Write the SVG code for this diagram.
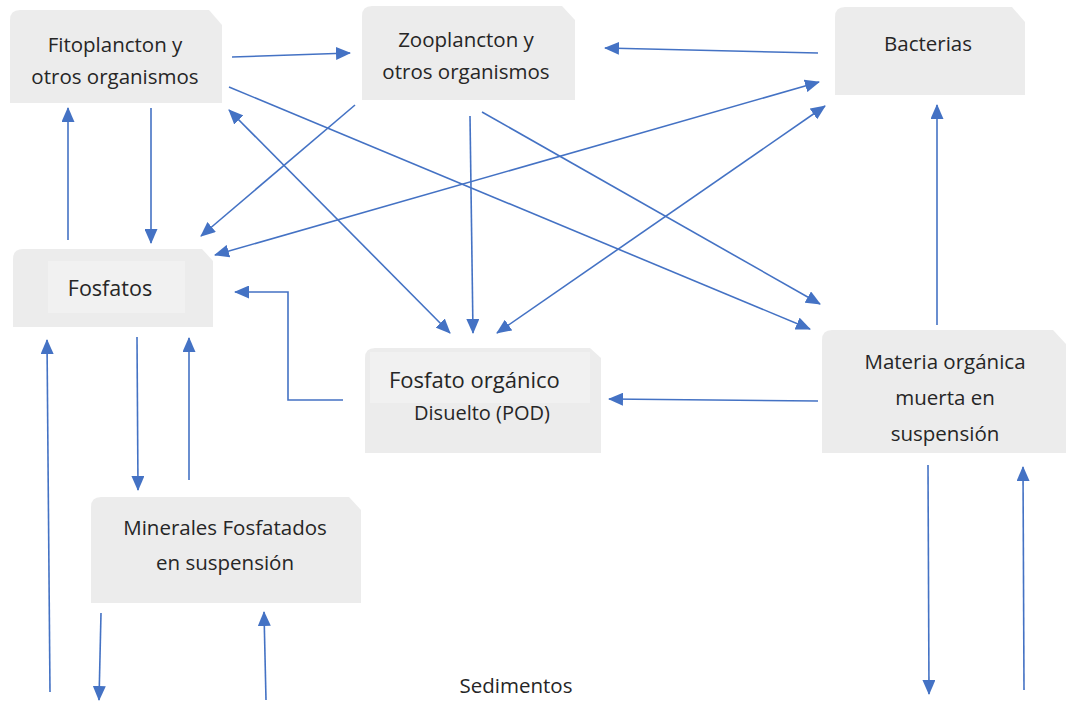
<svg xmlns="http://www.w3.org/2000/svg" width="1069" height="701" viewBox="0 0 1069 701">
  <style>
    .box { fill: #ececec; }
    .inner { fill: #f1f1f1; }
    .lbl { font-family: "Open Sans", "Noto Sans", sans-serif; font-size: 20.5px; fill: #262626; text-anchor: middle; }
    .edge { fill: none; stroke: #4472c4; stroke-width: 1.6; }
    .one { marker-end: url(#head); }
    .two { marker-start: url(#headStart); marker-end: url(#head); }
  </style>
  <defs>
    <marker id="head" viewBox="0 0 15 13" refX="14" refY="6.5" markerWidth="15" markerHeight="13" markerUnits="userSpaceOnUse" orient="auto">
      <path d="M0,0 L15,6.5 L0,13 Z" fill="#4472c4"/>
    </marker>
    <marker id="headStart" viewBox="0 0 15 13" refX="1" refY="6.5" markerWidth="15" markerHeight="13" markerUnits="userSpaceOnUse" orient="auto">
      <path d="M15,0 L0,6.5 L15,13 Z" fill="#4472c4"/>
    </marker>
  </defs>

  <rect width="1069" height="701" fill="#ffffff"/>

  <!-- nodes -->
  <g id="fitoplancton">
    <path class="box" d="M20,10 H209 L222,25 V103 H10 V20 Q10,10 20,10 Z"/>
    <text class="lbl" x="115" y="52">Fitoplancton y</text>
    <text class="lbl" x="115" y="84">otros organismos</text>
  </g>

  <g id="zooplancton">
    <path class="box" d="M372,6 H562 L575,20 V100 H362 V16 Q362,6 372,6 Z"/>
    <text class="lbl" x="466" y="47">Zooplancton y</text>
    <text class="lbl" x="466" y="79">otros organismos</text>
  </g>

  <g id="bacterias">
    <path class="box" d="M845,7 H1012 L1025,22 V95 H835 V17 Q835,7 845,7 Z"/>
    <text class="lbl" x="928" y="51">Bacterias</text>
  </g>

  <g id="fosfatos">
    <path class="box" d="M23,249 H202 L213,261 V327 H13 V259 Q13,249 23,249 Z"/>
    <rect class="inner" x="48" y="261" width="137" height="52"/>
    <text class="lbl" x="110" y="296" style="font-size:21.5px">Fosfatos</text>
  </g>

  <g id="pod">
    <path class="box" d="M375,348 H590 L601,358 V453 H365 V358 Q365,348 375,348 Z"/>
    <rect class="inner" x="370" y="352" width="220" height="51"/>
    <text class="lbl" x="389" y="388" style="font-size:22px;text-anchor:start">Fosfato orgánico</text>
    <text class="lbl" x="482" y="420" style="font-size:20px">Disuelto (POD)</text>
  </g>

  <g id="materia">
    <path class="box" d="M832,330 H1053 L1066,344 V453 H822 V340 Q822,330 832,330 Z"/>
    <text class="lbl" x="945" y="369">Materia orgánica</text>
    <text class="lbl" x="945" y="405">muerta en</text>
    <text class="lbl" x="945" y="441">suspensión</text>
  </g>

  <g id="minerales">
    <path class="box" d="M101,497 H349 L361,510 V603 H91 V507 Q91,497 101,497 Z"/>
    <text class="lbl" x="225" y="535">Minerales Fosfatados</text>
    <text class="lbl" x="225" y="570">en suspensión</text>
  </g>

  <g id="sedimentos">
    <text class="lbl" x="516" y="693">Sedimentos</text>
  </g>

  <!-- connectors -->
  <g id="connectors">
    <!-- top row -->
    <line class="edge one" x1="232" y1="57" x2="350" y2="53"/>
    <line class="edge one" x1="818" y1="53" x2="605" y2="48"/>
    <!-- Fitoplancton / Fosfatos -->
    <line class="edge one" x1="151" y1="108" x2="151" y2="243"/>
    <line class="edge one" x1="68" y1="240" x2="68" y2="108"/>
    <!-- diagonals -->
    <line class="edge one" x1="355" y1="105" x2="201" y2="236"/>
    <line class="edge two" x1="215" y1="255" x2="819" y2="82"/>
    <line class="edge two" x1="229" y1="110" x2="450" y2="333"/>
    <line class="edge one" x1="229" y1="87" x2="810" y2="329"/>
    <line class="edge one" x1="470" y1="116" x2="473" y2="333"/>
    <line class="edge one" x1="482" y1="112" x2="820" y2="304"/>
    <line class="edge two" x1="497" y1="333" x2="825" y2="106"/>
    <!-- Materia orgánica -->
    <line class="edge one" x1="937" y1="325" x2="937" y2="105"/>
    <line class="edge one" x1="818" y1="401" x2="609" y2="399"/>
    <polyline class="edge one" points="343,400 288,400 288,292 235,292"/>
    <!-- Fosfatos / Minerales -->
    <line class="edge one" x1="137" y1="337" x2="138" y2="490"/>
    <line class="edge one" x1="189" y1="480" x2="189" y2="338"/>
    <!-- sediment exchange -->
    <line class="edge one" x1="50" y1="692" x2="47" y2="340"/>
    <line class="edge one" x1="101" y1="613" x2="99" y2="700"/>
    <line class="edge one" x1="266" y1="700" x2="264" y2="612"/>
    <line class="edge one" x1="928" y1="465" x2="929" y2="694"/>
    <line class="edge one" x1="1024" y1="690" x2="1023" y2="467"/>
  </g>
</svg>
